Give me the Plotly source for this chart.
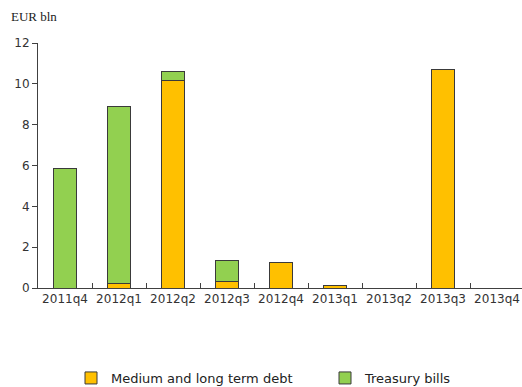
import plotly.graph_objects as go

categories = ["2011q4", "2012q1", "2012q2", "2012q3", "2012q4", "2013q1", "2013q2", "2013q3", "2013q4"]
medium_long_term_debt = [None, 0.2, 10.14, 0.34, 1.27, 0.11, None, 10.69, None]
treasury_bills = [5.83, 8.69, 0.45, 1.0, None, None, None, None, None]
y_ticks = [0, 2, 4, 6, 8, 10, 12]

W, H = 522, 387
ML, MT, MB = 38, 43, 99
cat_px = 54.0
plot_w = W - ML

fig = go.Figure()
fig.add_trace(go.Bar(
    x=categories, y=medium_long_term_debt, name="Medium and long term debt",
    marker=dict(color="#FFC000", line=dict(color="#3a3a3a", width=1)),
    width=0.41, legend="legend",
))
fig.add_trace(go.Bar(
    x=categories, y=treasury_bills, name="Treasury bills",
    marker=dict(color="#92D050", line=dict(color="#3a3a3a", width=1)),
    width=0.41, legend="legend2",
))

legend_common = dict(
    orientation="h", xref="container", yref="container",
    yanchor="middle", xanchor="left",
    font=dict(family="DejaVu Sans", size=13, color="#222222"),
    bgcolor="rgba(0,0,0,0)", itemwidth=30,
)

fig.update_layout(
    width=W, height=H,
    margin=dict(l=ML, r=0, t=MT, b=MB, autoexpand=False),
    paper_bgcolor="white", plot_bgcolor="white",
    barmode="stack",
    showlegend=True,
    legend=dict(x=(111 - 40) / W, y=1 - 378 / H, **legend_common),
    legend2=dict(x=(365 - 40) / W, y=1 - 378 / H, **legend_common),
    xaxis=dict(
        type="category", range=[-0.5, -0.5 + plot_w / cat_px],
        showline=True, linecolor="#404040", linewidth=1,
        ticks="inside", tickson="boundaries", ticklen=5, tickcolor="#404040",
        showgrid=False, zeroline=False, tickangle=0, automargin=False,
        tickfont=dict(family="DejaVu Sans", size=12, color="#333333"),
    ),
    yaxis=dict(
        range=[0, 12], tickvals=y_ticks,
        showline=True, linecolor="#404040", linewidth=1,
        ticks="outside", ticklen=5, tickcolor="#404040",
        showgrid=False, zeroline=False, automargin=False,
        tickfont=dict(family="DejaVu Sans", size=12, color="#333333"),
    ),
    annotations=[dict(
        text="EUR bln", xref="paper", yref="paper",
        x=(9 - ML) / plot_w, y=(288.3 - 17) / (H - MT - MB),
        xanchor="left", yanchor="middle", showarrow=False,
        font=dict(family="Liberation Serif", size=13, color="#222222"),
    )],
)

fig.write_html(
    "out.html",
    config={"displayModeBar": False},
    post_script="document.body.style.margin='0px';document.body.style.overflow='hidden';",
)
